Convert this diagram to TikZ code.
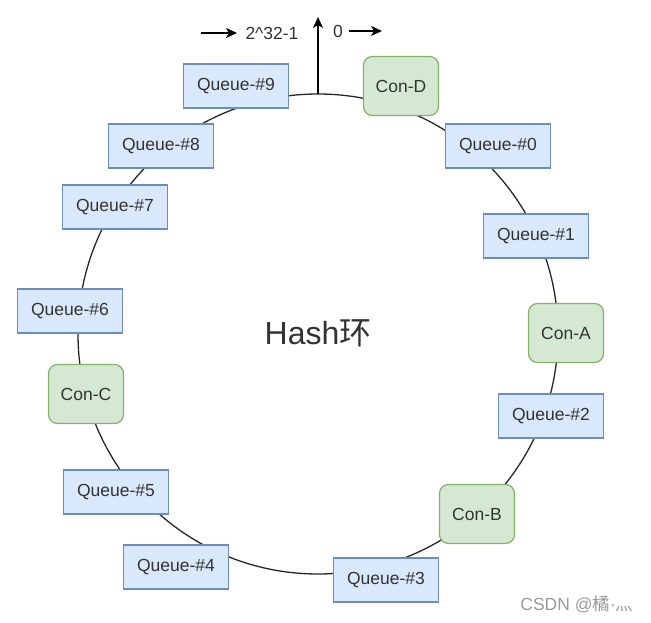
\documentclass[tikz,border=0pt]{standalone}
\usepackage{fontspec}
\setmainfont{Liberation Sans}
\newfontfamily\cjk{Noto Sans CJK SC}
\usepackage{xcolor}
\usetikzlibrary{arrows.meta}
\definecolor{queuefill}{HTML}{DAE8FC}
\definecolor{queueline}{HTML}{6C8EBF}
\definecolor{confill}{HTML}{D5E8D4}
\definecolor{conline}{HTML}{82B366}
\definecolor{ink}{HTML}{333333}

\begin{document}
\begin{tikzpicture}[x=1pt, y=-1pt, >={Stealth[length=11pt,width=10pt,inset=3pt]},
  every node/.style={font=\fontsize{17.5}{20}\selectfont, text=ink},
  queue/.style={draw=queueline, fill=queuefill, line width=1.2pt, minimum width=105pt, minimum height=44pt, inner sep=0pt},
  consumer/.style={draw=conline, fill=confill, line width=1.2pt, rounded corners=9pt, minimum width=75pt, minimum height=59pt, inner sep=0pt},
  ring/.style={line width=1.3pt, draw=black!85}]
\useasboundingbox (0,0) rectangle (651,623);
% hash ring
\draw[ring] (318,334) circle[radius=240pt];
\coordinate (top) at (318,94);
\coordinate (up) at (318,17);
\draw[->, line width=1.4pt] (top) -- (up);
\node[font=\fontsize{32}{36}\selectfont] (ringlabel) at (318,333) {Hash{\cjk 环}};
% top labels
\node (maxval) at (272,33) {2\^{}32-1};
\coordinate (maxa) at (201,33);
\coordinate (maxb) at (237,33);
\draw[->, line width=1.4pt] (maxa) -- (maxb);
\node (zeroval) at (338,31) {0};
\coordinate (zeroa) at (349,31);
\coordinate (zerob) at (382,31);
\draw[->, line width=1.4pt] (zeroa) -- (zerob);
% queues
\node[queue] (q9) at (236,86) {Queue-\#9};
\node[queue] (q0) at (498,146) {Queue-\#0};
\node[queue] (q1) at (536,236) {Queue-\#1};
\node[queue] (q2) at (551,416) {Queue-\#2};
\node[queue] (q3) at (386,580) {Queue-\#3};
\node[queue] (q4) at (176,567) {Queue-\#4};
\node[queue] (q5) at (116,492) {Queue-\#5};
\node[queue] (q6) at (70,311) {Queue-\#6};
\node[queue] (q7) at (115,207) {Queue-\#7};
\node[queue] (q8) at (161,146) {Queue-\#8};
% consumers
\node[consumer] (cond) at (401,86) {Con-D};
\node[consumer] (cona) at (566,333) {Con-A};
\node[consumer] (conb) at (477,514) {Con-B};
\node[consumer] (conc) at (86,394) {Con-C};
% watermark
\node[font=\fontsize{17.5}{20}\selectfont, text=black!40, anchor=east] (mark) at (637,604) {CSDN @{\cjk 橘}·{\cjk 灬}};
\end{tikzpicture}
\end{document}
